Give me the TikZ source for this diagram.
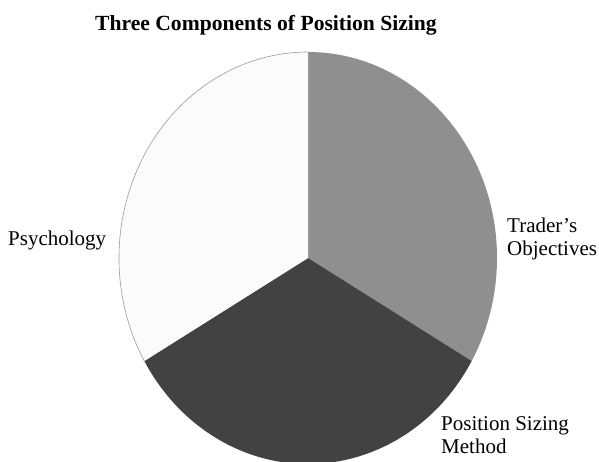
\documentclass[tikz,border=0pt]{standalone}
\usepackage{fontspec}
\setmainfont{Liberation Serif}

\definecolor{sliceLight}{HTML}{FBFBFB}
\definecolor{sliceMid}{HTML}{8F8F8F}
\definecolor{sliceDark}{HTML}{424242}
\definecolor{rimGray}{HTML}{9A9A9A}

\tikzset{
  label text/.style={font=\fontsize{21}{23}\selectfont, align=left, inner sep=0pt, anchor=base west},
}

\begin{document}
\begin{tikzpicture}[x=1pt, y=1pt]
\useasboundingbox (0,0) rectangle (599,461);

% Title
\node[font=\bfseries\fontsize{21.6}{24}\selectfont, inner sep=0pt, anchor=base] (title) at (266, 430) {Three Components of Position Sizing};

% Slices
\coordinate (centre) at (308, 203);
\fill[sliceMid] (centre) -- ++(0, 206) arc[start angle=90, end angle=-30, x radius=189, y radius=206] -- cycle;
\fill[sliceDark] (centre) -- ++(-30:189 and 206) arc[start angle=-30, end angle=-150, x radius=189, y radius=206] -- cycle;
\fill[sliceLight] (centre) -- ++(-150:189 and 206) arc[start angle=-150, end angle=-270, x radius=189, y radius=206] -- cycle;
\draw[rimGray, line width=0.6pt] (centre) ++(-150:189 and 206) arc[start angle=-150, end angle=-270, x radius=189, y radius=206];

% Labels
\node[label text] (psychology) at (8, 216) {Psychology};
\node[label text] (objectives) at (507, 206) {Trader's\\Objectives};
\node[label text] (method) at (441, 8) {Position Sizing\\Method};

\end{tikzpicture}
\end{document}
